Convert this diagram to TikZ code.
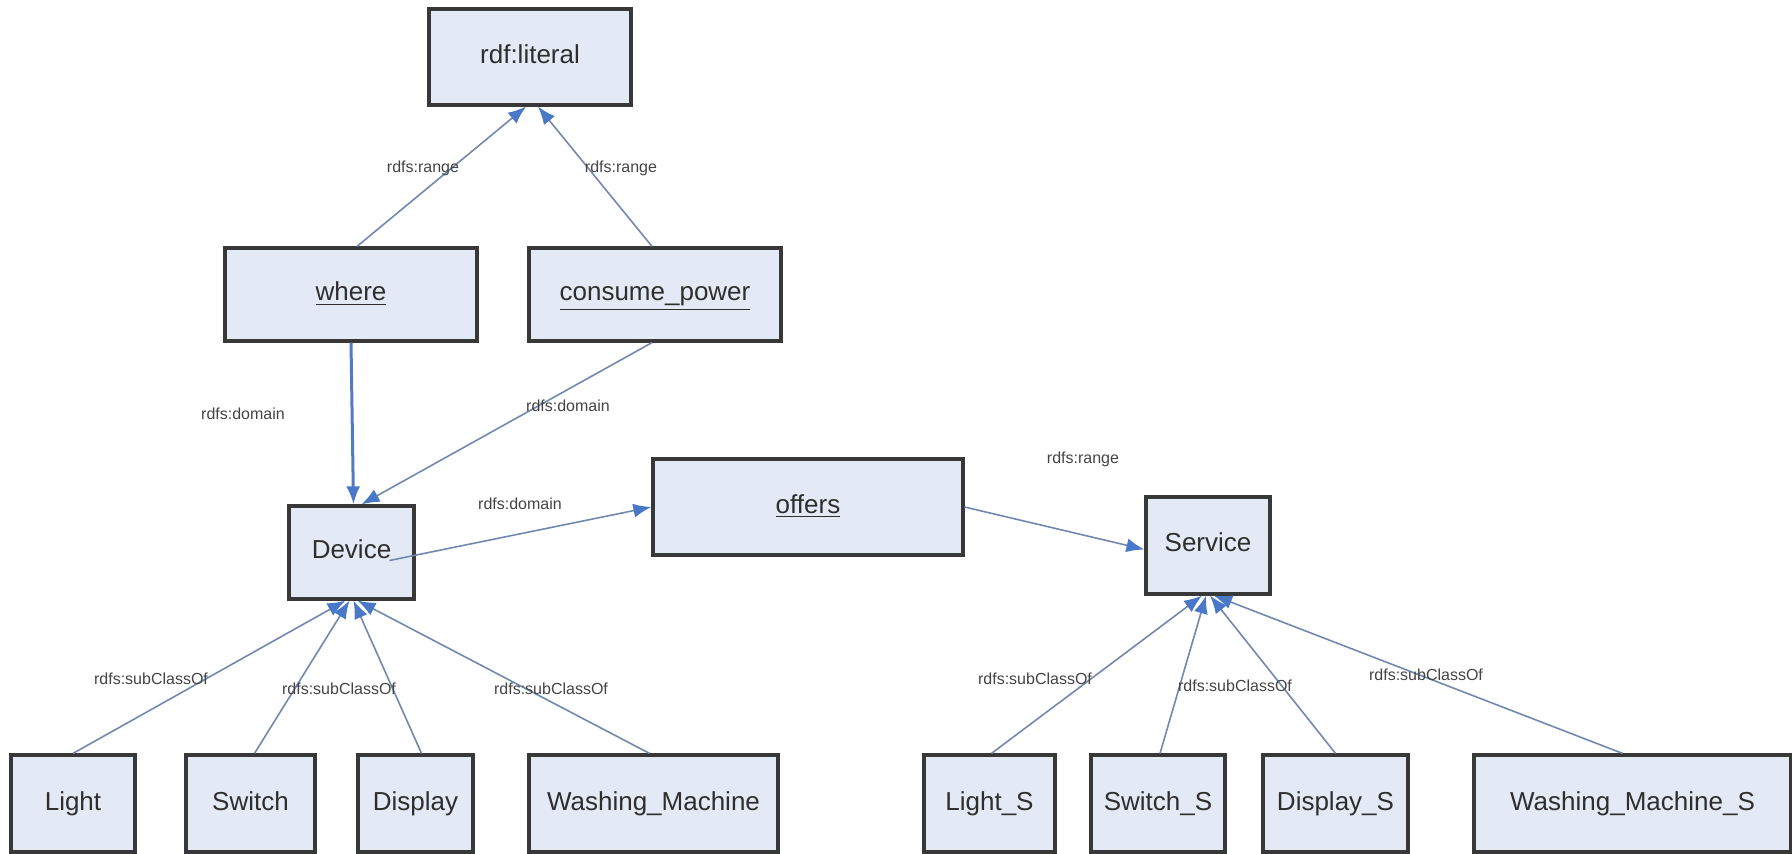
\documentclass[tikz,border=0pt]{standalone}
\usepackage{fontspec}
\setmainfont{Liberation Sans}
\usetikzlibrary{arrows.meta}
\definecolor{boxfill}{HTML}{E4EAF5}
\definecolor{boxline}{HTML}{383838}
\definecolor{edgeline}{HTML}{7388AE}
\definecolor{tipblue}{HTML}{4A78C8}
\definecolor{txt}{HTML}{2E2E2E}
\definecolor{lbl}{HTML}{444444}
\begin{document}
\begin{tikzpicture}[x=0.5pt,y=-0.5pt,
  cls/.style={draw=boxline, line width=1.6pt, fill=boxfill, text=txt,
    font=\fontsize{13}{15}\selectfont, inner sep=2pt,
    text height=9.5pt, text depth=3pt},
  conn/.style={draw=edgeline, line width=0.8pt,
    -{Latex[length=9pt,width=7pt,color=tipblue]}},
  strong/.style={conn, draw=tipblue!80!edgeline, line width=1.5pt},
  lab/.style={text=lbl, font=\fontsize{8}{10}\selectfont, inner sep=1pt}]
\useasboundingbox (0,0) rectangle (1792,854);

% classes and properties
\node[cls, minimum width=101pt, minimum height=48pt]   (lit)   at (530,57)    {rdf:literal};
\node[cls, minimum width=126pt, minimum height=46.5pt] (where) at (351,294.5) {\underline{where}};
\node[cls, minimum width=126pt, minimum height=46.5pt] (cons)  at (655,294.5) {\underline{consume\_power}};
\node[cls, minimum width=62.5pt, minimum height=46.5pt] (dev)  at (351.5,552.5) {Device};
\node[cls, minimum width=155pt, minimum height=48pt]   (off)   at (808,507)   {\underline{offers}};
\node[cls, minimum width=62pt, minimum height=48.5pt]  (serv)  at (1208,545.5) {Service};

% device subclasses
\node[cls, minimum width=62pt,   minimum height=48.5pt] (light)  at (73,803.5)    {Light};
\node[cls, minimum width=64.5pt, minimum height=48.5pt] (switch) at (250.5,803.5)  {Switch};
\node[cls, minimum width=57.5pt, minimum height=48.5pt] (disp)   at (415.5,803.5)  {Display};
\node[cls, minimum width=124.5pt, minimum height=48.5pt] (wash)  at (653.5,803.5)  {Washing\_Machine};

% service subclasses
\node[cls, minimum width=65.5pt, minimum height=48.5pt] (lightS)  at (989.5,803.5)  {Light\_S};
\node[cls, minimum width=67pt,   minimum height=48.5pt] (switchS) at (1158,803.5)   {Switch\_S};
\node[cls, minimum width=72.5pt, minimum height=48.5pt] (dispS)   at (1335.5,803.5) {Display\_S};
\node[cls, minimum width=158.5pt, minimum height=48.5pt] (washS)  at (1632.5,803.5) {Washing\_Machine\_S};

% property ranges and domains
\draw[conn] ([xshift=3pt]where.north) -- ([xshift=-2pt]lit.south);
\draw[conn] ([xshift=-1.5pt]cons.north) -- ([xshift=4pt]lit.south);
\draw[strong] (where.south) -- ([xshift=1pt]dev.north);
\draw[conn] ([xshift=-1.5pt]cons.south) -- ([xshift=5pt]dev.north);
\draw[conn] ([xshift=19pt,yshift=-4pt]dev.center) -- (off.west);
\draw[conn] (off.east) -- ([yshift=-2pt]serv.west);

% subclass links
\draw[conn] (light.north)              -- ([xshift=-3pt]dev.south);
\draw[conn] ([xshift=2pt]switch.north) -- ([xshift=-1pt]dev.south);
\draw[conn] ([xshift=3pt]disp.north)   -- ([xshift=1pt]dev.south);
\draw[conn] ([xshift=-2pt]wash.north)  -- ([xshift=3pt]dev.south);
\draw[conn] ([xshift=1pt]lightS.north)  -- ([xshift=-3pt]serv.south);
\draw[conn] ([xshift=1pt]switchS.north) -- ([xshift=-1pt]serv.south);
\draw[conn] (dispS.north)               -- ([xshift=1pt]serv.south);
\draw[conn] ([xshift=-5pt]washS.north)  -- ([xshift=3pt]serv.south);

% link labels
\node[lab] (l1)  at (423,168)  {rdfs:range};
\node[lab] (l2)  at (621,168)  {rdfs:range};
\node[lab] (l3)  at (243,414)  {rdfs:domain};
\node[lab] (l4)  at (568,406)  {rdfs:domain};
\node[lab] (l5)  at (520,504)  {rdfs:domain};
\node[lab] (l6)  at (1083,459) {rdfs:range};
\node[lab] (l7)  at (151,679)  {rdfs:subClassOf};
\node[lab] (l8)  at (339,689)  {rdfs:subClassOf};
\node[lab] (l9)  at (551,689)  {rdfs:subClassOf};
\node[lab] (l10) at (1035,679) {rdfs:subClassOf};
\node[lab] (l11) at (1235,686) {rdfs:subClassOf};
\node[lab] (l12) at (1426,675) {rdfs:subClassOf};
\end{tikzpicture}
\end{document}
